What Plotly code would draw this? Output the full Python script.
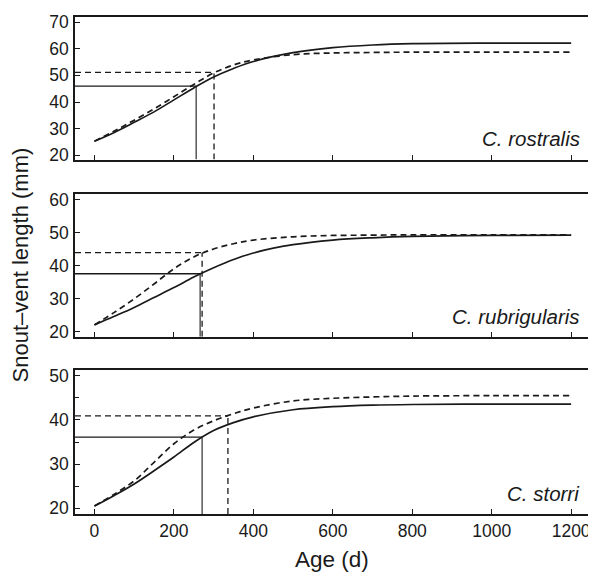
import plotly.graph_objects as go

# ---------------- data ----------------
age = [0, 50, 100, 150, 200, 250, 300, 350, 400, 500, 600, 700, 800, 1000, 1200]

rostralis_solid = [25.3, 28.6, 32.4, 36.3, 40.8, 45.3, 49.4, 52.6, 55.2, 58.5, 60.4, 61.4, 61.9, 62.1, 62.1]
rostralis_dashed = [25.3, 29.1, 33.2, 37.4, 42.0, 46.6, 50.9, 53.9, 55.8, 57.8, 58.4, 58.6, 58.7, 58.7, 58.7]

rubrigularis_solid = [22.0, 24.6, 27.3, 30.3, 33.3, 36.5, 39.3, 41.8, 43.8, 46.3, 47.7, 48.4, 48.8, 49.1, 49.2]
rubrigularis_dashed = [22.0, 25.8, 29.9, 34.4, 39.0, 42.6, 45.0, 46.6, 47.7, 48.7, 49.1, 49.2, 49.3, 49.3, 49.3]

storri_solid = [20.5, 22.9, 25.5, 28.5, 31.6, 34.9, 37.6, 39.4, 40.7, 42.3, 43.0, 43.35, 43.5, 43.6, 43.6]
storri_dashed = [20.5, 23.2, 26.2, 30.4, 34.6, 37.7, 39.8, 41.4, 42.7, 44.3, 44.9, 45.2, 45.4, 45.5, 45.5]

species = ["C. rostralis", "C. rubrigularis", "C. storri"]
ref_age_solid = [256, 266, 271]
ref_len_solid = [46.0, 37.5, 36.1]
ref_age_dashed = [301, 271, 336]
ref_len_dashed = [51.1, 43.9, 40.9]

x_ticks = [0, 200, 400, 600, 800, 1000, 1200]
y_ticks = [[20, 30, 40, 50, 60, 70], [20, 30, 40, 50, 60], [20, 30, 40, 50]]

# ---------------- layout settings ----------------
x_range = [-49, 1245]
y_ranges = [[18.4, 71.9], [18.4, 61.6], [18.7, 51.2]]
domains = [[0.7131, 1.0], [0.3566, 0.6434], [0.0, 0.2888]]

solid_curves = [rostralis_solid, rubrigularis_solid, storri_solid]
dashed_curves = [rostralis_dashed, rubrigularis_dashed, storri_dashed]

INK = "#1a1a1a"
FONT = "Liberation Sans, Arial, sans-serif"
DASH = "6px,4px"

fig = go.Figure()

for i in range(3):
    xa = "x" if i == 0 else f"x{i+1}"
    ya = "y" if i == 0 else f"y{i+1}"
    ymin = y_ranges[i][0]
    # curves
    fig.add_trace(go.Scatter(x=age, y=solid_curves[i], mode="lines", line=dict(color=INK, width=1.7, shape="spline"),
                             xaxis=xa, yaxis=ya, showlegend=False, hoverinfo="skip"))
    fig.add_trace(go.Scatter(x=age, y=dashed_curves[i], mode="lines", line=dict(color=INK, width=1.7, dash=DASH, shape="spline"),
                             xaxis=xa, yaxis=ya, showlegend=False, hoverinfo="skip"))
    # reference lines (solid)
    fig.add_trace(go.Scatter(x=[x_range[0], ref_age_solid[i]], y=[ref_len_solid[i]] * 2, mode="lines",
                             line=dict(color=INK, width=1.3), xaxis=xa, yaxis=ya, showlegend=False, hoverinfo="skip"))
    fig.add_trace(go.Scatter(x=[ref_age_solid[i]] * 2, y=[ymin, ref_len_solid[i]], mode="lines",
                             line=dict(color=INK, width=1.1), xaxis=xa, yaxis=ya, showlegend=False, hoverinfo="skip"))
    # reference lines (dashed)
    fig.add_trace(go.Scatter(x=[x_range[0], ref_age_dashed[i]], y=[ref_len_dashed[i]] * 2, mode="lines",
                             line=dict(color=INK, width=1.3, dash=DASH), xaxis=xa, yaxis=ya, showlegend=False, hoverinfo="skip"))
    fig.add_trace(go.Scatter(x=[ref_age_dashed[i]] * 2, y=[ymin, ref_len_dashed[i]], mode="lines",
                             line=dict(color=INK, width=1.3, dash=DASH), xaxis=xa, yaxis=ya, showlegend=False, hoverinfo="skip"))

    axis_common = dict(showline=True, linecolor=INK, linewidth=1.5, mirror=True, showgrid=False, zeroline=False,
                       ticks="inside", ticklen=5, tickwidth=1, tickcolor=INK,
                       tickfont=dict(family=FONT, size=17.5, color=INK))
    xkey = "xaxis" if i == 0 else f"xaxis{i+1}"
    ykey = "yaxis" if i == 0 else f"yaxis{i+1}"
    fig.update_layout({
        xkey: dict(axis_common, range=x_range, tickvals=x_ticks, showticklabels=(i == 2),
                   anchor=ya, domain=[0, 1], ticklabelstandoff=0),
        ykey: dict(axis_common, range=y_ranges[i], tickvals=y_ticks[i], anchor=xa, domain=domains[i],
                   ticklabelstandoff=1,
                   minor=dict(dtick=5, ticks="inside", ticklen=4, tickcolor=INK) if i == 2 else None),
    })
    fig.add_annotation(text=f"<i>{species[i]}</i>", xref=f"{xa} domain", yref=f"{ya} domain",
                       x=0.986, y=0.145, xanchor="right", yanchor="middle", showarrow=False,
                       font=dict(family=FONT, size=20.5, color=INK))

fig.add_annotation(text="Snout–vent length (mm)", xref="paper", yref="paper", x=-0.107, y=0.5,
                   textangle=-90, showarrow=False, xanchor="center", yanchor="middle",
                   font=dict(family=FONT, size=22, color=INK))
fig.add_annotation(text="Age (d)", xref="paper", yref="paper", x=0.5, y=-0.092,
                   showarrow=False, xanchor="center", yanchor="middle",
                   font=dict(family=FONT, size=22.5, color=INK))

# the page adds an 8px body margin, so the figure is 8px smaller on each side
fig.update_layout(width=588, height=566, margin=dict(l=67, r=7, t=4, b=60),
                  plot_bgcolor="white", paper_bgcolor="white", showlegend=False)

fig.write_html("out.html")
